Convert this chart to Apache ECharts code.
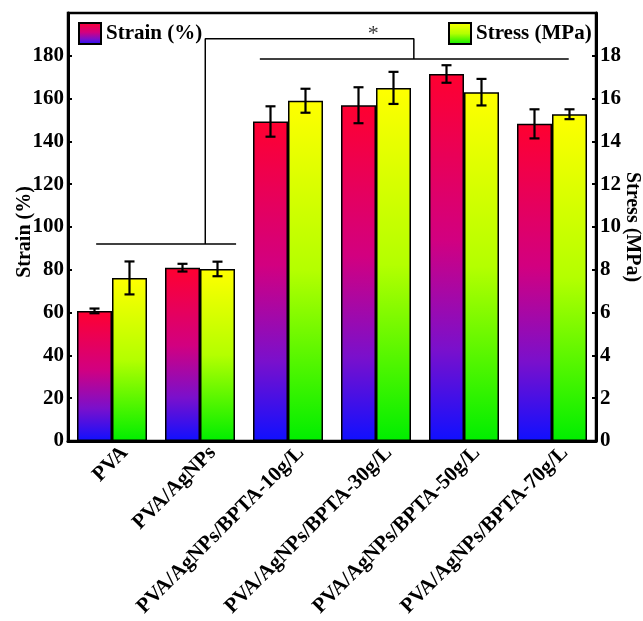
<!DOCTYPE html>
<html>
<head>
<meta charset="utf-8">
<script src="https://cdn.jsdelivr.net/npm/echarts@6/dist/echarts.min.js"></script>
<style>
  html, body { margin: 0; padding: 0; background: #fff; }
  #main { width: 643px; height: 621px; }
</style>
</head>
<body>
<div id="main"></div>
<script>
// data
var categories = ['PVA', 'PVA/AgNPs', 'PVA/AgNPs/BPTA-10g/L', 'PVA/AgNPs/BPTA-30g/L', 'PVA/AgNPs/BPTA-50g/L', 'PVA/AgNPs/BPTA-70g/L'];
var strain = [60.8, 81.0, 149.3, 156.9, 171.5, 148.2];
var strainErr = [1.1, 1.8, 7.1, 8.4, 4.1, 6.8];
var stress = [7.62, 8.04, 15.9, 16.5, 16.3, 15.27];
var stressErr = [0.77, 0.34, 0.56, 0.75, 0.62, 0.23];

// significance brackets, in (category index, strain) space
var bracketLow = [[-0.18, 92], [1.41, 92]];
var bracketLink = [[1.06, 92], [1.06, 188], [3.43, 188], [3.43, 178.5]];
var bracketHigh = [[1.68, 178.5], [5.19, 178.5]];
var starPos = [[2.97, 190]];

var font = 'Liberation Serif';
var barW = 35;

var chart = echarts.init(document.getElementById('main'));

var strainColor = new echarts.graphic.LinearGradient(0, 0, 0, 1, [
    { offset: 0, color: '#ff0030' },
    { offset: 0.45, color: '#d20080' },
    { offset: 0.75, color: '#7a10cc' },
    { offset: 1, color: '#1010ff' }
]);
var stressColor = new echarts.graphic.LinearGradient(0, 0, 0, 1, [
    { offset: 0, color: '#ffff00' },
    { offset: 0.5, color: '#b4ff00' },
    { offset: 1, color: '#00ee00' }
]);

// error bar drawer, side = -1 left bar, +1 right bar
function errRenderer(side) {
    return function (params, api) {
        var x = api.value(0), v = api.value(1), e = api.value(2);
        var hi = api.coord([x, v + e]);
        var lo = api.coord([x, v - e]);
        var cx = hi[0] + side * barW / 2;
        var cap = 5;
        var st = { stroke: '#000', lineWidth: 2.2 };
        return {
            type: 'group',
            children: [
                { type: 'line', shape: { x1: cx, y1: hi[1], x2: cx, y2: lo[1] }, style: st },
                { type: 'line', shape: { x1: cx - cap, y1: hi[1], x2: cx + cap, y2: hi[1] }, style: st },
                { type: 'line', shape: { x1: cx - cap, y1: lo[1], x2: cx + cap, y2: lo[1] }, style: st }
            ]
        };
    };
}

var strainErrData = strain.map(function (v, i) { return [i, v, strainErr[i]]; });
var stressErrData = stress.map(function (v, i) { return [i, v, stressErr[i]]; });

function bracket(data) {
    return {
        type: 'line', xAxisIndex: 1, yAxisIndex: 0,
        data: data, symbol: 'none', silent: true, z: 5,
        lineStyle: { color: '#000', width: 1.5 }
    };
}

var legendText = { fontFamily: font, fontWeight: 'bold', fontSize: 21, color: '#000' };

var option = {
    backgroundColor: '#fff',
    animation: false,
    legend: [{
        data: ['Strain (%)'],
        left: 78, top: 22, padding: 0,
        itemWidth: 22, itemHeight: 21,
        icon: 'rect',
        textStyle: legendText
    }, {
        data: ['Stress (MPa)'],
        left: 448, top: 22, padding: 0,
        itemWidth: 22, itemHeight: 21,
        icon: 'rect',
        textStyle: legendText
    }],
    grid: {
        left: 68, right: 47, top: 13, bottom: 180,
        outerBoundsMode: 'none',
        show: true, borderColor: '#000', borderWidth: 2.5
    },
    xAxis: [{
        type: 'category',
        data: categories,
        axisLine: { lineStyle: { color: '#000', width: 3 } },
        axisTick: { show: false },
        axisLabel: {
            interval: 0, rotate: 45, margin: -4,
            verticalAlign: 'top', lineHeight: 36,
            fontFamily: font, fontWeight: 'bold', fontSize: 21, color: '#000'
        }
    }, {
        type: 'value', min: -0.5, max: 5.5, show: false
    }],
    yAxis: [{
        type: 'value',
        min: 0, max: 200, interval: 20,
        name: 'Strain (%)',
        nameLocation: 'middle', nameGap: 33, nameMoveOverlap: false,
        nameTextStyle: { fontFamily: font, fontWeight: 'bold', fontSize: 20, color: '#000', padding: [0, 10, 0, 0] },
        axisLine: { show: true, onZero: false, lineStyle: { color: '#000', width: 3 } },
        axisTick: { show: true, inside: true, length: 4, lineStyle: { color: '#000', width: 2 } },
        axisLabel: {
            margin: 4, showMaxLabel: false,
            fontFamily: font, fontWeight: 'bold', fontSize: 21, color: '#000'
        },
        splitLine: { show: false }
    }, {
        type: 'value',
        position: 'right',
        min: 0, max: 20, interval: 2,
        name: 'Stress (MPa)',
        nameLocation: 'middle', nameGap: 26, nameRotate: -90, nameMoveOverlap: false,
        nameTextStyle: { fontFamily: font, fontWeight: 'bold', fontSize: 20, color: '#000' },
        axisLine: { show: true, onZero: false, lineStyle: { color: '#000', width: 3 } },
        axisTick: { show: true, inside: true, length: 4, lineStyle: { color: '#000', width: 2 } },
        axisLabel: {
            margin: 4, showMaxLabel: false,
            fontFamily: font, fontWeight: 'bold', fontSize: 21, color: '#000'
        },
        splitLine: { show: false }
    }],
    series: [{
        name: 'Strain (%)',
        type: 'bar',
        yAxisIndex: 0,
        data: strain,
        barWidth: barW,
        barGap: '0%',
        itemStyle: { color: strainColor, borderColor: '#000', borderWidth: 1.5 }
    }, {
        name: 'Stress (MPa)',
        type: 'bar',
        yAxisIndex: 1,
        data: stress,
        barWidth: barW,
        barGap: '0%',
        itemStyle: { color: stressColor, borderColor: '#000', borderWidth: 1.5 }
    }, {
        type: 'custom',
        yAxisIndex: 0,
        data: strainErrData,
        renderItem: errRenderer(-1),
        z: 10, silent: true
    }, {
        type: 'custom',
        yAxisIndex: 1,
        data: stressErrData,
        renderItem: errRenderer(1),
        z: 10, silent: true
    },
    bracket(bracketLow),
    bracket(bracketLink),
    bracket(bracketHigh),
    {
        type: 'scatter', xAxisIndex: 1, yAxisIndex: 0,
        data: starPos, symbolSize: 1, silent: true,
        itemStyle: { color: 'rgba(0,0,0,0)' },
        label: { show: true, formatter: '*', position: 'inside', fontFamily: font, fontSize: 22, color: '#000' }
    }]
};

chart.setOption(option);
</script>
</body>
</html>
